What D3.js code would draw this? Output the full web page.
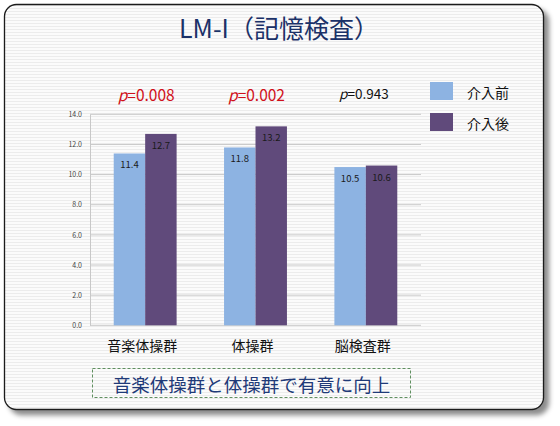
<!DOCTYPE html>
<html lang="ja">
<head>
<meta charset="utf-8">
<title>LM-I（記憶検査）</title>
<script src="https://d3js.org/d3.v7.min.js"></script>
<style>
  body { margin: 0; background: #fff; }
  text { font-family: "Noto Sans CJK JP", "Noto Sans", sans-serif; }
</style>
</head>
<body>
<div id="chart"></div>
<script>
"use strict";

// データ
const groups = ["音楽体操群", "体操群", "脳検査群"];
const seriesNames = ["介入前", "介入後"];
const before = [11.4, 11.8, 10.5];
const after = [12.7, 13.2, 10.6];
const pValues = ["0.008", "0.002", "0.943"];
const significant = [true, true, false];
const yTicks = [0, 2, 4, 6, 8, 10, 12, 14];

const W = 560, H = 426;
const colors = ["#8db3e2", "#604a7b"];

const svg = d3.select("#chart").append("svg")
    .attr("width", W).attr("height", H);

const defs = svg.append("defs");
const pat = defs.append("pattern")
    .attr("id", "stripes").attr("patternUnits", "userSpaceOnUse")
    .attr("width", 6).attr("height", 3);
pat.append("rect").attr("width", 6).attr("height", 3).attr("fill", "#fbfbfb");
pat.append("rect").attr("y", 2).attr("width", 6).attr("height", 1).attr("fill", "#ececec");

const shadow = defs.append("filter").attr("id", "shadow")
    .attr("x", "-5%").attr("y", "-5%").attr("width", "115%").attr("height", "115%");
shadow.append("feDropShadow")
    .attr("dx", 5).attr("dy", 5).attr("stdDeviation", 2.5)
    .attr("flood-color", "#000").attr("flood-opacity", 0.45);

// 枠
svg.append("rect")
    .attr("x", 4.5).attr("y", 4.5).attr("width", 539).attr("height", 405)
    .attr("rx", 12).attr("ry", 12)
    .attr("fill", "url(#stripes)")
    .attr("stroke", "#1a1a1a").attr("stroke-width", 1.3)
    .attr("filter", "url(#shadow)");

// タイトル
svg.append("text")
    .attr("x", 179).attr("y", 38)
    .attr("text-anchor", "start")
    .attr("font-size", 25)
    .attr("fill", "#1b3168")
    .text("LM-I（記憶検査）");

// スケール
const x0 = d3.scaleBand().domain(groups).range([90, 421])
    .paddingInner(0.43).paddingOuter(0.215);
const x1 = d3.scaleBand().domain(seriesNames).range([0, x0.bandwidth()]);
const y = d3.scaleLinear().domain([0, 14]).range([325.3, 114.3]);

// グリッド
svg.append("g").selectAll("line")
    .data(yTicks).join("line")
    .attr("x1", 90).attr("x2", 421)
    .attr("y1", d => y(d)).attr("y2", d => y(d))
    .attr("stroke", "#c8c8c8").attr("stroke-width", 1);

// Y軸
const yAxis = svg.append("g")
    .attr("transform", "translate(90,0)")
    .call(d3.axisLeft(y).tickValues(yTicks).tickFormat(d3.format(".1f")).tickSize(0).tickPadding(8));
yAxis.select(".domain").attr("stroke", "#c8c8c8");
yAxis.selectAll("text").attr("font-size", 7).attr("fill", "#444")
    .attr("font-family", "'Liberation Sans', sans-serif");

// 棒
const rows = groups.map((g, i) => ({ g, vals: [before[i], after[i]] }));
const gg = svg.append("g").selectAll("g")
    .data(rows).join("g")
    .attr("transform", d => "translate(" + x0(d.g) + ",0)");

gg.selectAll("rect")
    .data(d => d.vals.map((v, j) => ({ s: seriesNames[j], v, j })))
    .join("rect")
    .attr("x", d => x1(d.s))
    .attr("y", d => y(d.v))
    .attr("width", x1.bandwidth())
    .attr("height", d => y(0) - y(d.v))
    .attr("fill", d => colors[d.j]);

gg.selectAll("text.val")
    .data(d => d.vals.map((v, j) => ({ s: seriesNames[j], v, j })))
    .join("text")
    .attr("class", "val")
    .attr("x", d => x1(d.s) + x1.bandwidth() / 2)
    .attr("y", d => y(d.v) + 11)
    .attr("dominant-baseline", "central")
    .attr("text-anchor", "middle")
    .attr("font-size", 9.5)
    .attr("font-family", "'Open Sans', sans-serif")
    .attr("fill", "#1a1a1a")
    .text(d => d.v.toFixed(1));

// X軸ラベル
svg.append("g").selectAll("text")
    .data(groups).join("text")
    .attr("x", d => x0(d) + x0.bandwidth() / 2 - 3)
    .attr("y", 345)
    .attr("dominant-baseline", "central")
    .attr("text-anchor", "middle")
    .attr("font-size", 14)
    .attr("fill", "#111")
    .text(d => d);

// p値
const pt = svg.append("g").selectAll("text")
    .data(groups).join("text")
    .attr("x", (d, i) => x0(d) + x0.bandwidth() / 2 + (i === 2 ? -2 : 1))
    .attr("y", (d, i) => significant[i] ? 101 : 98.5)
    .attr("text-anchor", "middle")
    .attr("font-family", "'Open Sans', sans-serif")
    .attr("font-size", (d, i) => significant[i] ? 15.5 : 13.5)
    .attr("fill", (d, i) => significant[i] ? "#d0101a" : "#111");
pt.append("tspan").attr("font-style", "italic").text("p");
pt.append("tspan").text((d, i) => "=" + pValues[i]);

// 凡例
const leg = svg.append("g").selectAll("g")
    .data(seriesNames).join("g")
    .attr("transform", (d, i) => "translate(430," + (82 + i * 31) + ")");
leg.append("rect").attr("width", 23).attr("height", 18)
    .attr("fill", (d, i) => colors[i]);
leg.append("text")
    .attr("x", 37).attr("y", 9.5)
    .attr("dominant-baseline", "central")
    .attr("font-size", 14).attr("fill", "#111")
    .text(d => d);

// 結論ボックス
svg.append("rect")
    .attr("x", 92.5).attr("y", 368.5).attr("width", 318).attr("height", 29)
    .attr("fill", "none")
    .attr("stroke", "#5f8f5f").attr("stroke-width", 1)
    .attr("stroke-dasharray", "3,2");
svg.append("text")
    .attr("x", 251.5).attr("y", 383.5)
    .attr("dominant-baseline", "central")
    .attr("text-anchor", "middle")
    .attr("font-size", 18.5)
    .attr("fill", "#1f3a78")
    .text("音楽体操群と体操群で有意に向上");
</script>
</body>
</html>
